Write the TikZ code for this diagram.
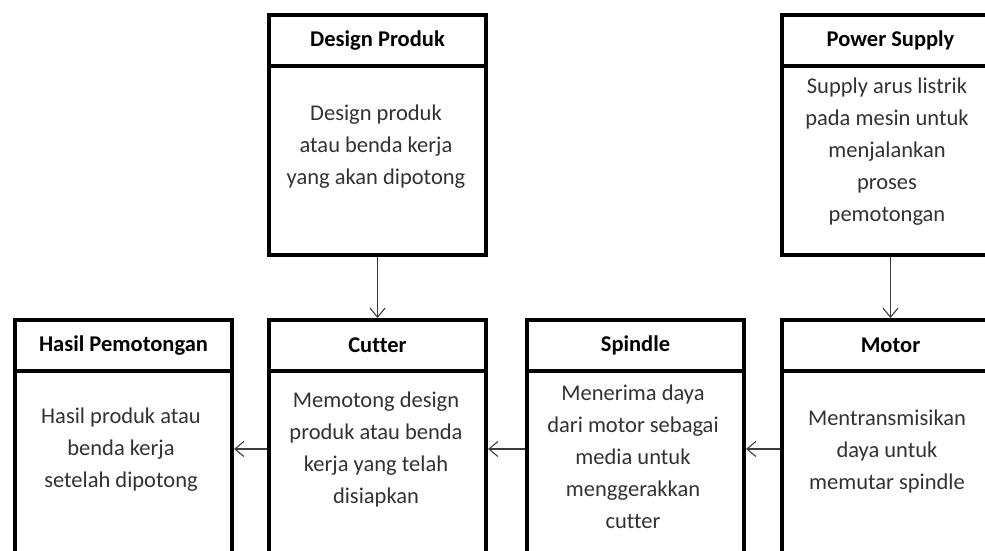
\documentclass[tikz,border=0pt]{standalone}
\usepackage{fontspec}
\setmainfont{Carlito}[Ligatures={NoCommon}]
\usetikzlibrary{arrows.meta,positioning}
\definecolor{txtgray}{RGB}{50,50,50}
\definecolor{arrgray}{RGB}{60,60,60}
\tikzset{
  blk/.style={draw, line width=4pt, minimum width=217pt, inner sep=0pt, anchor=north west},
  ttl/.style={draw, line width=4pt, minimum width=217pt, minimum height=51pt, inner sep=0pt,
    anchor=north, font=\fontsize{22.5}{27}\selectfont\bfseries},
  txt/.style={align=center, inner sep=0pt, text=txtgray, font=\fontsize{22.5}{32}\selectfont},
  arr/.style={draw=arrgray, line width=1.1pt, -{Straight Barb[length=9pt,width=15pt]}}
}
\begin{document}
\begin{tikzpicture}[x=1pt,y=1pt]
  \useasboundingbox (0,0) rectangle (985,-551);
  \clip (0,0) rectangle (985,-551);

  % Drawing box Design Produk
  \node [blk, minimum height=240pt] (design) at (267,-13) {};
  \node [ttl] (designT) at (design.north) {Design Produk};
  \node [txt] (designB) at (376,-147) {Design produk\\atau benda kerja\\yang akan dipotong};

  % Drawing box Power Supply
  \node [blk, minimum height=240pt] (power) at (780,-13) {};
  \node [ttl] (powerT) at (power.north) {Power Supply};
  \node [txt] (powerB) at (887,-152) {Supply arus listrik\\pada mesin untuk\\menjalankan\\proses\\pemotongan};

  % Drawing box Hasil Pemotongan
  \node [blk, minimum height=258pt] (hasil) at (13,-318) {};
  \node [ttl] (hasilT) at (hasil.north) {Hasil Pemotongan};
  \node [txt] (hasilB) at (121,-450) {Hasil produk atau\\benda kerja\\setelah dipotong};

  % Drawing box Cutter
  \node [blk, minimum height=258pt] (cutter) at (267,-318) {};
  \node [ttl] (cutterT) at (cutter.north) {Cutter};
  \node [txt] (cutterB) at (376,-449) {Memotong design\\produk atau benda\\kerja yang telah\\disiapkan};

  % Drawing box Spindle
  \node [blk, minimum height=258pt] (spindle) at (525,-318) {};
  \node [ttl] (spindleT) at (spindle.north) {Spindle};
  \node [txt] (spindleB) at (633,-457) {Menerima daya\\dari motor sebagai\\media untuk\\menggerakkan\\cutter};

  % Drawing box Motor
  \node [blk, minimum height=258pt] (motor) at (780,-318) {};
  \node [ttl] (motorT) at (motor.north) {Motor};
  \node [txt] (motorB) at (887,-451) {Mentransmisikan\\daya untuk\\memutar spindle};

  % Drawing arrows
  \draw [arr] (design.south) -- (cutterT.north);
  \draw [arr] (power.south) -- (motorT.north);
  \draw [arr] (motor.west) -- (spindle.east);
  \draw [arr] (spindle.west) -- (cutter.east);
  \draw [arr] (cutter.west) -- (hasil.east);
\end{tikzpicture}
\end{document}
